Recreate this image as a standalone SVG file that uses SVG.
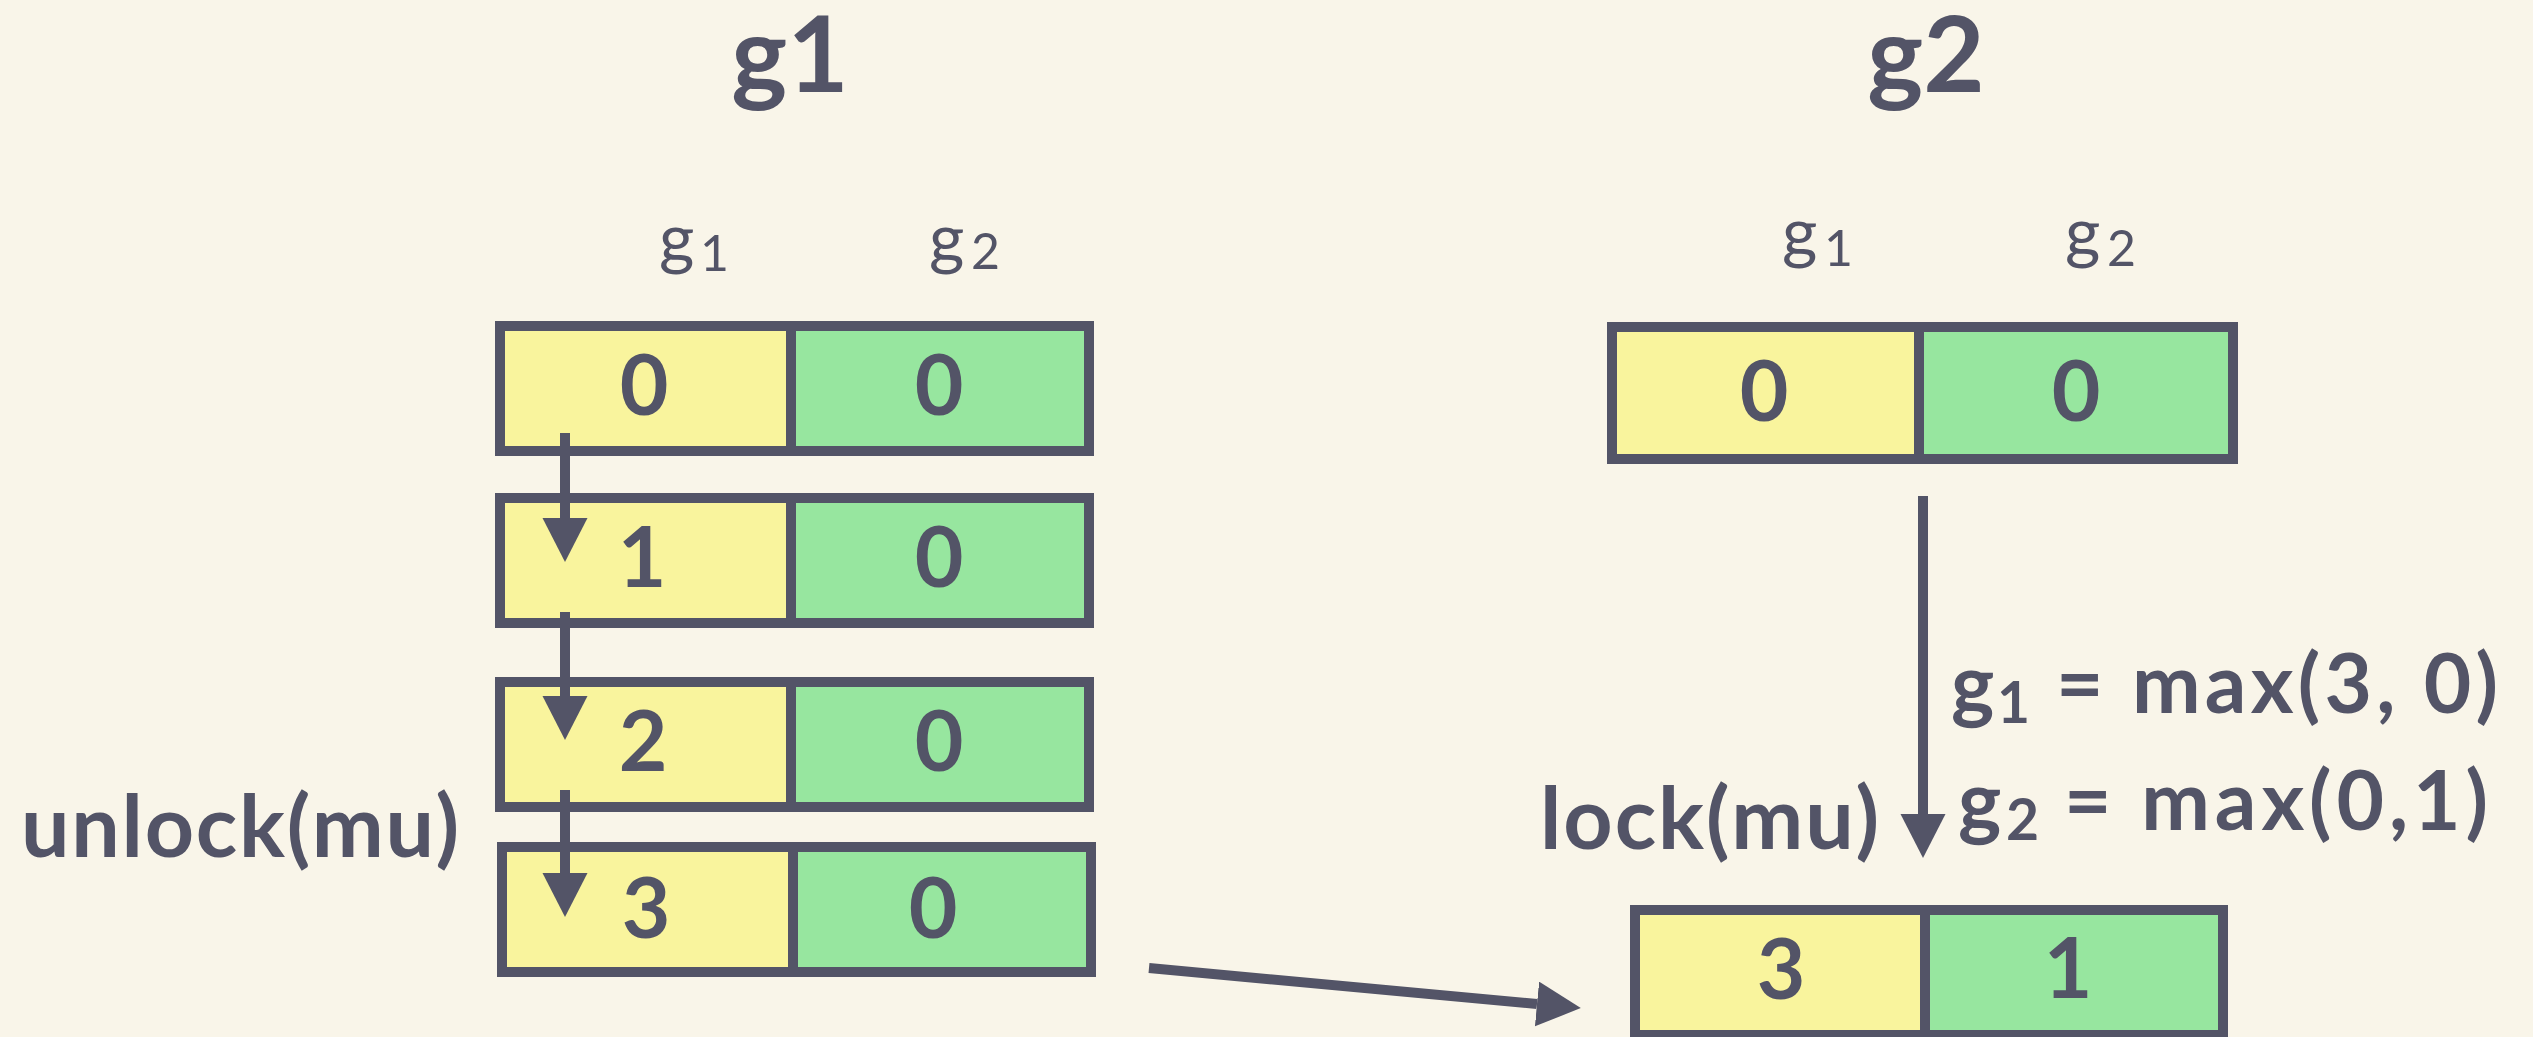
<svg xmlns="http://www.w3.org/2000/svg" width="2533" height="1037" viewBox="0 0 2533 1037">
  <defs>
    <style>
      .bg { fill: #F9F5E9; }
      .txt { font-family: "Lato", "Liberation Sans", sans-serif; fill: #535467; }
      .title { font-size: 106px; font-weight: 700; text-anchor: middle; }
      .lbl { font-size: 68px; font-weight: 400; }
      .lsub { font-size: 50px; font-weight: 400; }
      .num { font-size: 84px; font-weight: 700; text-anchor: middle; }
      .op { font-size: 86px; font-weight: 700; }
      .fx { font-size: 82px; font-weight: 700; }
      .fsub { font-size: 57px; font-weight: 700; }
      .cell1 { fill: #F9F49D; }
      .cell2 { fill: #97E69F; }
      .frame { fill: none; stroke: #535467; stroke-width: 10; }
      .div { stroke: #535467; stroke-width: 10; }
      .conn { stroke: #535467; stroke-width: 10; fill: none; marker-end: url(#head); }
    </style>
    <marker id="head" markerUnits="userSpaceOnUse" markerWidth="46" markerHeight="46" refX="0" refY="22.5" orient="auto">
      <path d="M0,0 L44,22.5 L0,45 Z" fill="#535467"/>
    </marker>
  </defs>

  <rect class="bg" x="0" y="0" width="2533" height="1037"/>

  <!-- goroutine headings -->
  <g id="title-g1"><text class="txt title" x="790" y="92">g1</text></g>
  <g id="title-g2"><text class="txt title" x="1926" y="92">g2</text></g>

  <!-- column headings above the vectors -->
  <g id="cols-left">
    <text class="txt lbl"><tspan x="659" y="262">g</tspan><tspan class="lsub" x="700" y="271">1</tspan></text>
    <text class="txt lbl"><tspan x="929" y="262">g</tspan><tspan class="lsub" x="971" y="269">2</tspan></text>
  </g>
  <g id="cols-right">
    <text class="txt lbl"><tspan x="1782" y="256">g</tspan><tspan class="lsub" x="1824" y="266">1</tspan></text>
    <text class="txt lbl"><tspan x="2065" y="256">g</tspan><tspan class="lsub" x="2107" y="266">2</tspan></text>
  </g>

  <!-- g1 vector clock, step 0 -->
  <g id="g1-v0">
    <rect class="cell1" x="500" y="326" width="291" height="125"/>
    <rect class="cell2" x="791" y="326" width="298" height="125"/>
    <rect class="frame" x="500" y="326" width="589" height="125"/>
    <line class="div" x1="791" y1="326" x2="791" y2="451"/>
    <text class="txt num" x="644" y="415">0</text>
    <text class="txt num" x="939" y="415">0</text>
  </g>

  <!-- g1 vector clock, step 1 -->
  <g id="g1-v1">
    <rect class="cell1" x="500" y="498" width="291" height="125"/>
    <rect class="cell2" x="791" y="498" width="298" height="125"/>
    <rect class="frame" x="500" y="498" width="589" height="125"/>
    <line class="div" x1="791" y1="498" x2="791" y2="623"/>
    <text class="txt num" x="642" y="587">1</text>
    <text class="txt num" x="939" y="587">0</text>
  </g>

  <!-- g1 vector clock, step 2 -->
  <g id="g1-v2">
    <rect class="cell1" x="500" y="682" width="291" height="125"/>
    <rect class="cell2" x="791" y="682" width="298" height="125"/>
    <rect class="frame" x="500" y="682" width="589" height="125"/>
    <line class="div" x1="791" y1="682" x2="791" y2="807"/>
    <text class="txt num" x="643" y="771">2</text>
    <text class="txt num" x="939" y="771">0</text>
  </g>

  <!-- g1 vector clock, step 3 -->
  <g id="g1-v3">
    <rect class="cell1" x="502" y="847" width="291" height="125"/>
    <rect class="cell2" x="793" y="847" width="298" height="125"/>
    <rect class="frame" x="502" y="847" width="589" height="125"/>
    <line class="div" x1="793" y1="847" x2="793" y2="972"/>
    <text class="txt num" x="646" y="938">3</text>
    <text class="txt num" x="933" y="938">0</text>
  </g>

  <!-- g2 vector clock before the lock -->
  <g id="g2-v0">
    <rect class="cell1" x="1612" y="327" width="307" height="132"/>
    <rect class="cell2" x="1919" y="327" width="314" height="132"/>
    <rect class="frame" x="1612" y="327" width="621" height="132"/>
    <line class="div" x1="1919" y1="327" x2="1919" y2="459"/>
    <text class="txt num" x="1764" y="421">0</text>
    <text class="txt num" x="2076" y="421">0</text>
  </g>

  <!-- g2 vector clock after the lock -->
  <g id="g2-v1">
    <rect class="cell1" x="1635" y="910" width="290" height="125"/>
    <rect class="cell2" x="1925" y="910" width="298" height="125"/>
    <rect class="frame" x="1635" y="910" width="588" height="125"/>
    <line class="div" x1="1925" y1="910" x2="1925" y2="1035"/>
    <text class="txt num" x="1781" y="999">3</text>
    <text class="txt num" x="2068" y="998">1</text>
  </g>

  <!-- operation labels -->
  <g id="op-unlock"><text class="txt op" x="21" y="857" textLength="438" lengthAdjust="spacing">unlock(mu)</text></g>
  <g id="op-lock"><text class="txt op" x="1540" y="849" textLength="339" lengthAdjust="spacing">lock(mu)</text></g>

  <!-- merge rule -->
  <g id="merge">
    <text class="txt fx"><tspan x="1951" y="713">g</tspan><tspan class="fsub" x="1997" y="723">1</tspan><tspan x="2056" y="713" textLength="442" lengthAdjust="spacing">= max(3, 0)</tspan></text>
    <text class="txt fx"><tspan x="1958" y="830">g</tspan><tspan class="fsub" x="2006" y="840">2</tspan><tspan x="2064" y="830" textLength="424" lengthAdjust="spacing">= max(0,1)</tspan></text>
  </g>

  <!-- connectors -->
  <g id="connectors">
    <line class="conn" x1="565" y1="433" x2="565" y2="518"/>
    <line class="conn" x1="565" y1="612" x2="565" y2="696"/>
    <line class="conn" x1="565" y1="790" x2="565" y2="873"/>
    <line class="conn" x1="1923" y1="496" x2="1923" y2="814"/>
    <line class="conn" x1="1149" y1="968" x2="1537" y2="1004"/>
  </g>
</svg>
